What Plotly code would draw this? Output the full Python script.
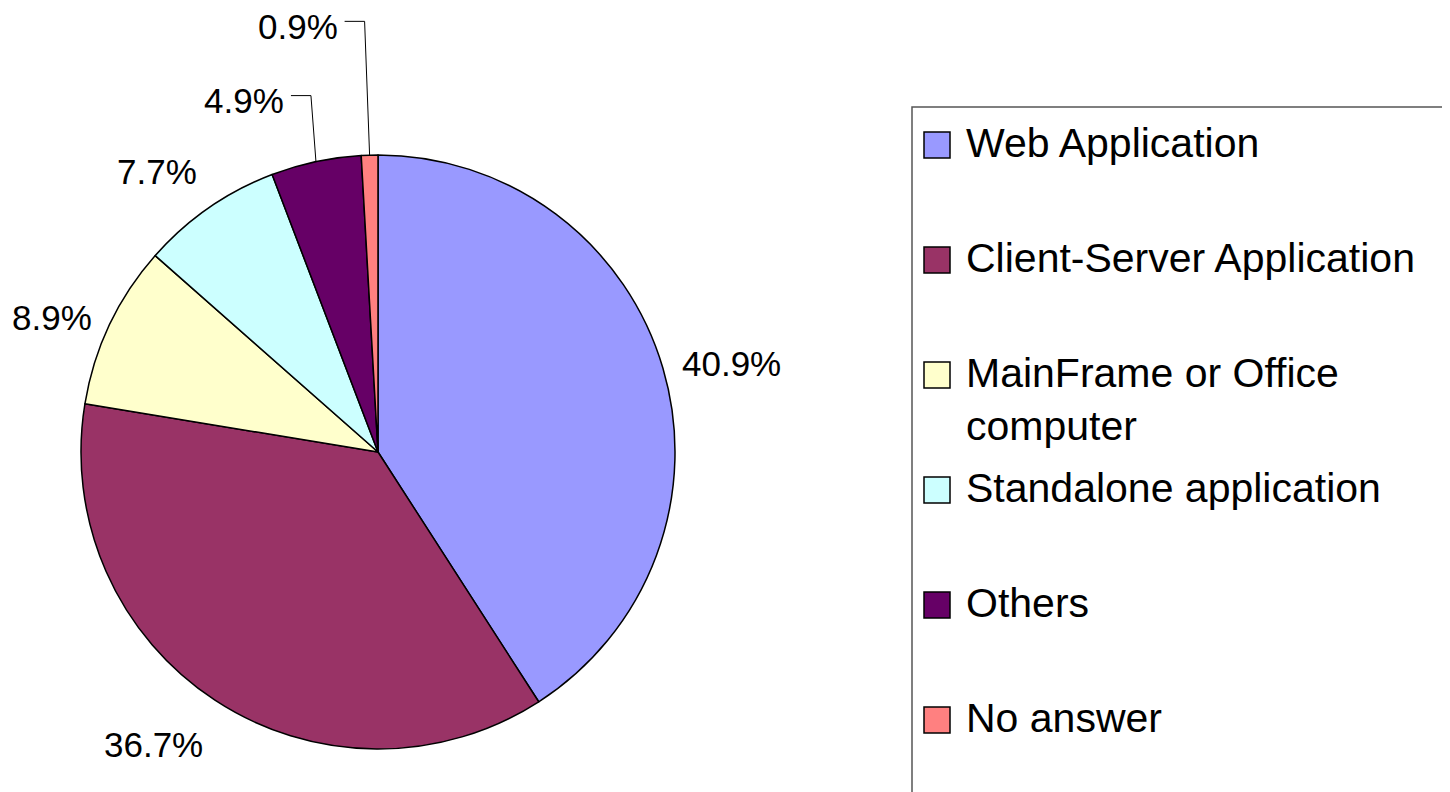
import math
import plotly.graph_objects as go

# ---------------- data ----------------
labels = ["Web Application", "Client-Server Application", "MainFrame or Office computer",
          "Standalone application", "Others", "No answer"]
legend_text = ["Web Application", "Client-Server Application", "MainFrame or Office<br>computer",
               "Standalone application", "Others", "No answer"]
values = [40.9, 36.7, 8.9, 7.7, 4.9, 0.9]
colors = ["#9999FF", "#993366", "#FFFFCC", "#CCFFFF", "#660066", "#FF8080"]

# ---------------- layout constants ----------------
OFF = 8                      # page margin of the html body
W, H = 1450 - OFF, 792 - OFF


def px(x):
    return (x - OFF) / W


def py(y):
    return 1 - (y - OFF) / H


DOM_X = [px(81), px(675)]
DOM_Y = [py(749), py(155)]
CX, CY, R = 378, 452, 297
LABEL_FONT = dict(family="Liberation Sans, Arial", size=35, color="black")
LEG_FONT = dict(family="Liberation Sans, Arial", size=41, color="black")

fig = go.Figure(go.Pie(
    values=values, labels=labels, sort=False, direction="clockwise", rotation=0,
    marker=dict(colors=colors, line=dict(color="black", width=1.5)),
    textinfo="none", hoverinfo="label+percent", showlegend=False,
    domain=dict(x=DOM_X, y=DOM_Y),
))

annotations = []
shapes = []
total = sum(values)
cum = 0.0
leader_k = 0
for v in values:
    mid = (cum + v / 2) / total * 2 * math.pi
    cum += v
    s, c = math.sin(mid), math.cos(mid)
    txt = f"{v:.1f}%"
    if v < 6:
        ex, ey = CX + R * s, CY - R * c
        lift = 1.2 + 0.25 * leader_k
        leader_k += 1
        ty = CY - lift * R
        tx = ex - 5
        hx = tx - 20
        shapes.append(dict(type="path", xref="paper", yref="paper",
                           path=f"M {px(ex)} {py(ey)} L {px(tx)} {py(ty)} L {px(hx)} {py(ty)}",
                           line=dict(color="black", width=1)))
        annotations.append(dict(x=px(hx - 5), y=py(ty + 5), xref="paper", yref="paper",
                                text=txt, showarrow=False, xanchor="right", yanchor="middle",
                                font=LABEL_FONT))
    else:
        k = 1.06
        ax, ay = CX + k * R * s, CY - k * R * c
        xa = "left" if s > 0.3 else ("right" if s < -0.3 else "center")
        ya = "bottom" if c > 0.5 else ("top" if c < -0.5 else "middle")
        if ya == "top":
            ay += 8
        annotations.append(dict(x=px(ax), y=py(ay), xref="paper", yref="paper",
                                text=txt, showarrow=False, xanchor=xa, yanchor=ya,
                                font=LABEL_FONT))

# ---------------- custom legend ----------------
LEG_X0, LEG_Y0 = 912, 107
shapes.append(dict(type="rect", xref="paper", yref="paper",
                   x0=px(LEG_X0), y0=-0.1, x1=1.1, y1=py(LEG_Y0),
                   line=dict(color="#555555", width=1.5), fillcolor="rgba(0,0,0,0)"))
first_c, step = 145, 115
for i, (t, col) in enumerate(zip(legend_text, colors)):
    yc = first_c + i * step
    shapes.append(dict(type="rect", xref="paper", yref="paper",
                       x0=px(924), x1=px(950), y0=py(yc + 13), y1=py(yc - 13),
                       fillcolor=col, line=dict(color="black", width=1.5)))
    annotations.append(dict(x=px(964), y=py(yc - 27), xref="paper", yref="paper",
                            text=t, showarrow=False, xanchor="left", yanchor="top",
                            align="left", font=LEG_FONT))

fig.update_layout(
    width=W, height=H, margin=dict(l=0, r=0, t=0, b=0),
    paper_bgcolor="white", plot_bgcolor="white",
    annotations=annotations, shapes=shapes,
)

fig.write_html("out.html")
